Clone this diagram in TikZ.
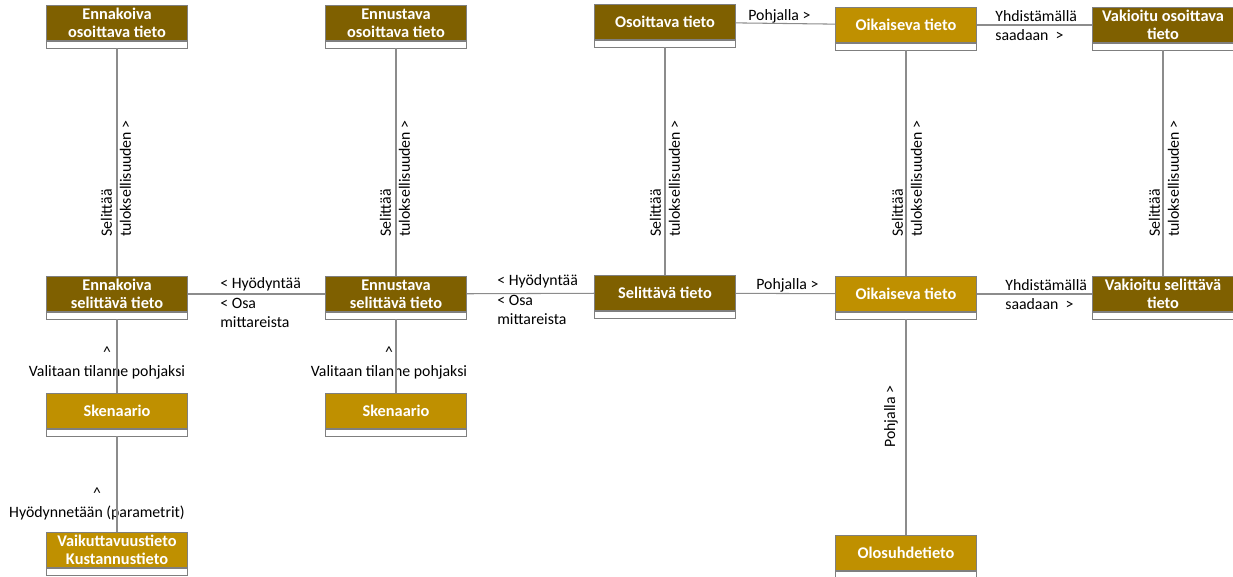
\documentclass[tikz,border=0pt]{standalone}
\usepackage{fontspec}
\setmainfont{Carlito}
\usepackage{tikz}

\definecolor{darkhead}{HTML}{7F6000}
\definecolor{goldhead}{HTML}{BF9000}
\definecolor{edgegray}{HTML}{7F7F7F}
\definecolor{linkgray}{HTML}{8C8C8C}

\begin{document}
\begin{tikzpicture}[x=0.02cm, y=-0.02cm,
	head/.style={draw=edgegray, text=white, font=\fontsize{9.3}{10.2}\selectfont\bfseries,
		align=center, minimum width=80.5pt, minimum height=19.8pt, inner sep=0pt},
	dark/.style={head, fill=darkhead},
	gold/.style={head, fill=goldhead},
	strip/.style={draw=edgegray, fill=white, minimum width=80.5pt, minimum height=4pt,
		inner sep=0pt, anchor=north},
	lbl/.style={font=\fontsize{9}{10.8}\selectfont, inner sep=0pt, align=left},
	vlbl/.style={lbl, rotate=90, anchor=west},
	link/.style={draw=linkgray, line width=0.6pt}]
\useasboundingbox (0,0) rectangle (1233,576);
\clip (0,0) rectangle (1233,576);

\path (117,23) node[dark] (eo) {Ennakoiva\\osoittava tieto}
		(396,23) node[dark] (no) {Ennustava\\osoittava tieto}
		(665,22) node[dark] (os) {Osoittava tieto}
		(906,25) node[gold] (ok1) {Oikaiseva tieto}
		(1163,25) node[dark] (vo) {Vakioitu osoittava\\tieto}
		(117,294) node[dark] (es) {Ennakoiva\\selittävä tieto}
		(396,294) node[dark] (ns) {Ennustava\\selittävä tieto}
		(665,293) node[dark] (se) {Selittävä tieto}
		(906,294) node[gold] (ok2) {Oikaiseva tieto}
		(1163,294) node[dark] (vs) {Vakioitu selittävä\\tieto}
		(117,411) node[gold] (sk1) {Skenaario}
		(396,411) node[gold] (sk2) {Skenaario}
		(117,550) node[gold] (vk) {Vaikuttavuustieto\\Kustannustieto}
		(906,553) node[gold] (ol) {Olosuhdetieto}
		;

\path (eo.south) node[strip] (eo-s) {}
		(no.south) node[strip] (no-s) {}
		(os.south) node[strip] (os-s) {}
		(ok1.south) node[strip] (ok1-s) {}
		(vo.south) node[strip] (vo-s) {}
		(es.south) node[strip] (es-s) {}
		(ns.south) node[strip] (ns-s) {}
		(se.south) node[strip] (se-s) {}
		(ok2.south) node[strip] (ok2-s) {}
		(vs.south) node[strip] (vs-s) {}
		(sk1.south) node[strip] (sk1-s) {}
		(sk2.south) node[strip] (sk2-s) {}
		(vk.south) node[strip] (vk-s) {}
		(ol.south) node[strip] (ol-s) {}
		;

\path (116,237) node[vlbl] (eo-l) {Selittää\\tuloksellisuuden >}
		(395,237) node[vlbl] (no-l) {Selittää\\tuloksellisuuden >}
		(665,237) node[vlbl] (os-l) {Selittää\\tuloksellisuuden >}
		(907,237) node[vlbl] (ok-l) {Selittää\\tuloksellisuuden >}
		(1164,237) node[vlbl] (vo-l) {Selittää\\tuloksellisuuden >}
		(891,448) node[vlbl] (ol-l) {Pohjalla >}
		(220,284) node[lbl, anchor=west] (h1) {< Hyödyntää}
		(220,298) node[lbl, anchor=north west] (m1) {< Osa\\mittareista}
		(497,281) node[lbl, anchor=west] (h2) {< Hyödyntää}
		(497,295) node[lbl, anchor=north west] (m2) {< Osa\\mittareista}
		(756,285) node[lbl, anchor=west] (p2) {Pohjalla >}
		(748,16) node[lbl, anchor=west] (p1) {Pohjalla >}
		(1005,295) node[lbl, anchor=west] (y2) {Yhdistämällä\\saadaan~~>}
		(995,26) node[lbl, anchor=west] (y1) {Yhdistämällä\\saadaan~~>}
		(107,363) node[lbl, align=center] (v1) {\textasciicircum\\Valitaan tilanne pohjaksi}
		(389,363) node[lbl, align=center] (v2) {\textasciicircum\\Valitaan tilanne pohjaksi}
		(97,504) node[lbl, align=center] (hp) {\textasciicircum\\Hyödynnetään (parametrit)}
		;

\draw[link] (node cs:name=eo-s) -- (node cs:name=es);
\draw[link] (node cs:name=no-s) -- (node cs:name=ns);
\draw[link] (node cs:name=os-s) -- (node cs:name=se);
\draw[link] (node cs:name=ok1-s) -- (node cs:name=ok2);
\draw[link] (node cs:name=vo-s) -- (node cs:name=vs);
\draw[link] (node cs:name=es-s) -- (node cs:name=sk1);
\draw[link] (node cs:name=ns-s) -- (node cs:name=sk2);
\draw[link] (node cs:name=sk1-s) -- (node cs:name=vk);
\draw[link] (node cs:name=ok2-s) -- (node cs:name=ol);

\draw[link] (node cs:name=os) -- (node cs:name=ok1);
\draw[link] (node cs:name=ok1) -- (node cs:name=vo);
\draw[link] (node cs:name=es) -- (node cs:name=ns);
\draw[link] (node cs:name=ns) -- (node cs:name=se);
\draw[link] (node cs:name=se) -- (node cs:name=ok2);
\draw[link] (node cs:name=ok2) -- (node cs:name=vs);
\end{tikzpicture}
\end{document}
